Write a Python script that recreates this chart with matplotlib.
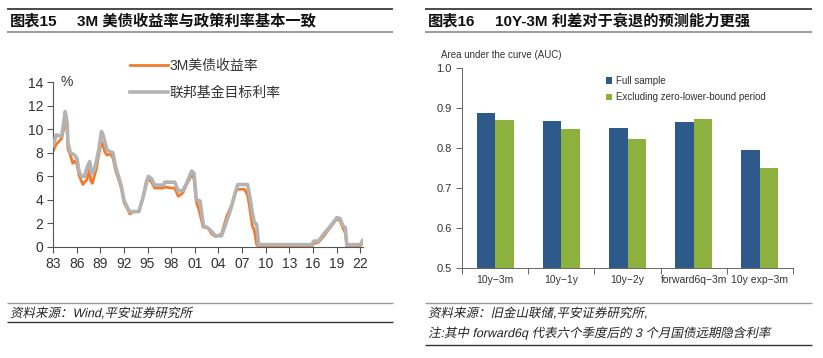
import matplotlib
matplotlib.use("Agg")
import matplotlib.pyplot as plt
from matplotlib.lines import Line2D
from matplotlib.patches import PathPatch
from matplotlib.textpath import TextPath
from matplotlib.font_manager import FontProperties
from matplotlib.transforms import Affine2D

plt.rcParams['font.family'] = ['Liberation Sans', 'Noto Sans CJK SC', 'DejaVu Sans']
plt.rcParams['axes.unicode_minus'] = True

W, H = 823, 358

# ---- left chart data: 3M treasury yield vs fed funds target (%)
ff_year = [1983.0, 1983.4, 1984.1, 1984.35, 1984.55, 1984.8, 1984.9, 1985.2, 1985.75,
           1986.05, 1986.3, 1986.6, 1987.0, 1987.3, 1987.65, 1987.9, 1988.2, 1988.5,
           1988.85, 1989.15, 1989.35, 1989.55, 1989.85, 1990.2, 1990.6, 1990.95,
           1991.4, 1991.7, 1992.0, 1992.4, 1992.75, 1993.9, 1994.45, 1994.85, 1995.1,
           1995.5, 1995.9, 1997.0, 1997.2, 1998.45, 1998.9, 1999.5, 1999.95, 2000.6,
           2000.9, 2001.2, 2001.67, 2002.1, 2002.7, 2003.15, 2003.6, 2004.4, 2005.05,
           2005.7, 2006.1, 2006.45, 2007.7, 2008.0, 2008.3, 2008.55, 2008.85, 2009.1,
           2015.85, 2016.1, 2016.7, 2017.35, 2018.0, 2018.6, 2019.05, 2019.45, 2019.8,
           2020.1, 2020.3, 2022.0, 2022.3]
ff_rate = [8.6, 9.5, 9.4, 10.5, 11.5, 10.5, 8.8, 8.0, 7.8,
           7.5, 6.4, 6.0, 6.0, 6.7, 7.25, 6.25, 6.5, 7.25,
           8.4, 9.8, 9.5, 9.0, 8.25, 8.1, 8.0, 6.8,
           5.8, 5.1, 4.0, 3.4, 3.0, 3.0, 4.25, 5.4, 6.0,
           5.8, 5.25, 5.25, 5.5, 5.5, 4.75, 4.8, 5.4, 6.45,
           6.25, 4.0, 3.9, 1.8, 1.6, 1.3, 0.95, 0.95, 2.2,
           3.5, 4.5, 5.3, 5.3, 4.2, 2.9, 2.1, 1.9, 0.2,
           0.2, 0.5, 0.5, 1.1, 1.6, 2.1, 2.5, 2.4, 1.8,
           1.65, 0.2, 0.2, 0.55]

tb_year = [1983.0, 1983.4, 1983.8, 1984.1, 1984.35, 1984.55, 1984.8, 1984.9, 1985.2,
           1985.5, 1985.75, 1986.05, 1986.3, 1986.6, 1986.8, 1987.0, 1987.3, 1987.65,
           1987.8, 1988.0, 1988.2, 1988.5, 1988.85, 1989.15, 1989.35, 1989.55, 1989.85,
           1990.2, 1990.6, 1990.95, 1991.4, 1991.7, 1992.0, 1992.4, 1992.75, 1993.2,
           1993.9, 1994.45, 1994.85, 1995.1, 1995.5, 1995.9, 1997.0, 1997.2, 1998.0,
           1998.45, 1998.9, 1999.5, 1999.95, 2000.6, 2000.9, 2001.2, 2001.55, 2002.05,
           2002.7, 2003.15, 2003.6, 2004.4, 2005.05, 2005.7, 2006.1, 2006.45, 2007.3,
           2007.7, 2008.0, 2008.3, 2008.55, 2008.85, 2009.1, 2015.85, 2016.1, 2016.7,
           2017.35, 2018.0, 2018.6, 2019.05, 2019.45, 2019.8, 2020.1, 2020.3, 2022.0,
           2022.3]
tb_rate = [8.1, 8.7, 9.0, 9.2, 10.0, 10.8, 9.8, 8.3, 7.8,
           7.1, 7.3, 7.0, 6.1, 5.6, 5.3, 5.5, 5.7, 6.6,
           5.6, 5.4, 5.9, 6.6, 8.0, 8.9, 8.6, 8.1, 7.8,
           7.9, 7.6, 6.5, 5.6, 4.9, 3.8, 3.3, 2.8, 3.0,
           3.0, 4.3, 5.6, 5.8, 5.5, 5.0, 5.0, 5.1, 5.0,
           5.0, 4.3, 4.6, 5.3, 6.1, 5.8, 3.8, 3.1, 1.7,
           1.6, 1.1, 0.9, 1.1, 2.6, 3.6, 4.6, 4.9, 4.9,
           4.4, 3.2, 1.8, 1.4, 0.2, 0.05, 0.05, 0.3, 0.4,
           0.9, 1.5, 2.0, 2.4, 2.2, 1.6, 1.2, 0.05, 0.1,
           0.3]

x_ticks = [1983, 1986, 1989, 1992, 1995, 1998, 2001, 2004, 2007, 2010, 2013, 2016, 2019, 2022]
x_labels = ['83', '86', '89', '92', '95', '98', '01', '04', '07', '10', '13', '16', '19', '22']

# ---- right chart data: AUC of recession predictors
spreads = ['10y\u22123m', '10y\u22121y', '10y\u22122y', 'forward6q\u22123m', '10y exp\u22123m']
auc_full = [0.888, 0.868, 0.850, 0.866, 0.795]
auc_ex_zlb = [0.871, 0.847, 0.823, 0.873, 0.751]

ORANGE = '#F07B2C'
GREY = '#B3B3B3'
BLUE = '#2D5A8B'
GREEN = '#8CB13F'


def fx(x):
    return x / W


def fy(y):
    return 1 - y / H


def hline(fig, x0, x1, y, color, lw):
    fig.add_artist(Line2D([fx(x0), fx(x1)], [fy(y), fy(y)], transform=fig.transFigure,
                          color=color, lw=lw, solid_capstyle='butt'))


def slanted_text(fig, x, y, s, size=9, color='#222222'):
    # fake italic (the CJK font has no italic face): shear the glyph outlines
    prop = FontProperties(family=['Liberation Sans', 'Noto Sans CJK SC'])
    path = TextPath((0, 0), s, size=size, prop=prop)
    tr = (Affine2D().skew_deg(12, 0).scale(1 / 72)
          .translate(x / 100, (H - y - 0.33 * size * 100 / 72) / 100) + fig.dpi_scale_trans)
    fig.add_artist(PathPatch(path, transform=tr, facecolor=color, edgecolor='none'))


fig = plt.figure(figsize=(W / 100, H / 100), dpi=100)

# headers
for x0, x1 in [(7, 393), (425, 812)]:
    hline(fig, x0, x1, 9, '#4a4a4a', 1.4)
    hline(fig, x0, x1, 32, '#8a8a8a', 1.2)
fig.text(fx(10), fy(21), '图表15', fontsize=11, fontweight='bold', va='center', color='#111111')
fig.text(fx(77), fy(21), '3M 美债收益率与政策利率基本一致', fontsize=11, fontweight='bold',
         va='center', color='#111111')
fig.text(fx(428), fy(21), '图表16', fontsize=11, fontweight='bold', va='center', color='#111111')
fig.text(fx(495), fy(21), '10Y-3M 利差对于衰退的预测能力更强', fontsize=11, fontweight='bold',
         va='center', color='#111111')

# footers
hline(fig, 7, 393, 303, '#9a9a9a', 1.0)
hline(fig, 7, 393, 322, '#333333', 1.0)
slanted_text(fig, 10, 313, '资料来源：Wind,平安证券研究所')
hline(fig, 425, 812, 303, '#9a9a9a', 1.0)
hline(fig, 425, 812, 345, '#333333', 1.0)
slanted_text(fig, 428, 313, '资料来源：旧金山联储,平安证券研究所,')
slanted_text(fig, 428, 333, '注:其中 forward6q 代表六个季度后的 3 个月国债远期隐含利率')

# ---- left chart
ax1 = fig.add_axes([fx(53), fy(247), (363 - 53) / W, (247 - 82) / H])
ax1.plot(tb_year, tb_rate, color=ORANGE, lw=2.0, label='3M美债收益率', zorder=2)
ax1.plot(ff_year, ff_rate, color=GREY, lw=2.6, label='联邦基金目标利率', zorder=3)
ax1.set_xlim(1983, 2022.35)
ax1.set_ylim(0, 14)
ax1.set_xticks(x_ticks)
ax1.set_xticklabels(x_labels)
ax1.set_yticks(range(0, 15, 2))
for s in ['top', 'right']:
    ax1.spines[s].set_visible(False)
for s in ['left', 'bottom']:
    ax1.spines[s].set_color('#555555')
    ax1.spines[s].set_linewidth(0.8)
ax1.tick_params(direction='out', length=4, width=0.8, color='#555555', labelsize=10,
                labelcolor='#333333', pad=3)
ax1.text(1984.0, 14.0, '%', fontsize=10, color='#333333', va='center')
ax1.legend(loc='upper left', bbox_to_anchor=(fx(130), fy(59)), bbox_transform=fig.transFigure,
           frameon=False, fontsize=10, handlelength=2.7, handletextpad=0.15,
           labelspacing=0.9, borderaxespad=0, borderpad=0, labelcolor='#333333')

# ---- right chart
ax2 = fig.add_axes([fx(462), fy(268), (793 - 462) / W, (268 - 68) / H])
pos = list(range(len(spreads)))
bw = 0.28
ax2.bar([p - bw / 2 for p in pos], auc_full, width=bw, color=BLUE, label='Full sample')
ax2.bar([p + bw / 2 for p in pos], auc_ex_zlb, width=bw, color=GREEN,
        label='Excluding zero-lower-bound period')
ax2.set_xlim(-0.5, len(spreads) - 0.5)
ax2.set_ylim(0.5, 1.0)
ax2.set_yticks([0.5, 0.6, 0.7, 0.8, 0.9, 1.0])
ax2.set_yticklabels(['0.5', '0.6', '0.7', '0.8', '0.9', '1.0'])
ax2.set_xticks(pos)
ax2.set_xticklabels(spreads)
ax2.set_xticks([p - 0.5 for p in range(len(spreads) + 1)], minor=True)
ax2.tick_params(axis='x', which='major', length=0, pad=5, labelsize=7.5, labelcolor='#333333')
ax2.tick_params(axis='x', which='minor', direction='out', length=4, width=0.7, color='#666666')
ax2.tick_params(axis='y', direction='out', length=4, width=0.7, color='#666666', labelsize=8,
                labelcolor='#333333')
for s in ['top', 'right']:
    ax2.spines[s].set_visible(False)
for s in ['left', 'bottom']:
    ax2.spines[s].set_color('#666666')
    ax2.spines[s].set_linewidth(0.7)
fig.text(fx(441), fy(55), 'Area under the curve (AUC)', fontsize=7, color='#333333', va='center')
ax2.legend(loc='upper left', bbox_to_anchor=(fx(606), fy(76)), bbox_transform=fig.transFigure,
           frameon=False, fontsize=7, handlelength=0.6, handleheight=0.6, handletextpad=0.4,
           labelspacing=0.65, borderaxespad=0, borderpad=0, labelcolor='#333333')

fig.savefig('out.png', dpi=100)
